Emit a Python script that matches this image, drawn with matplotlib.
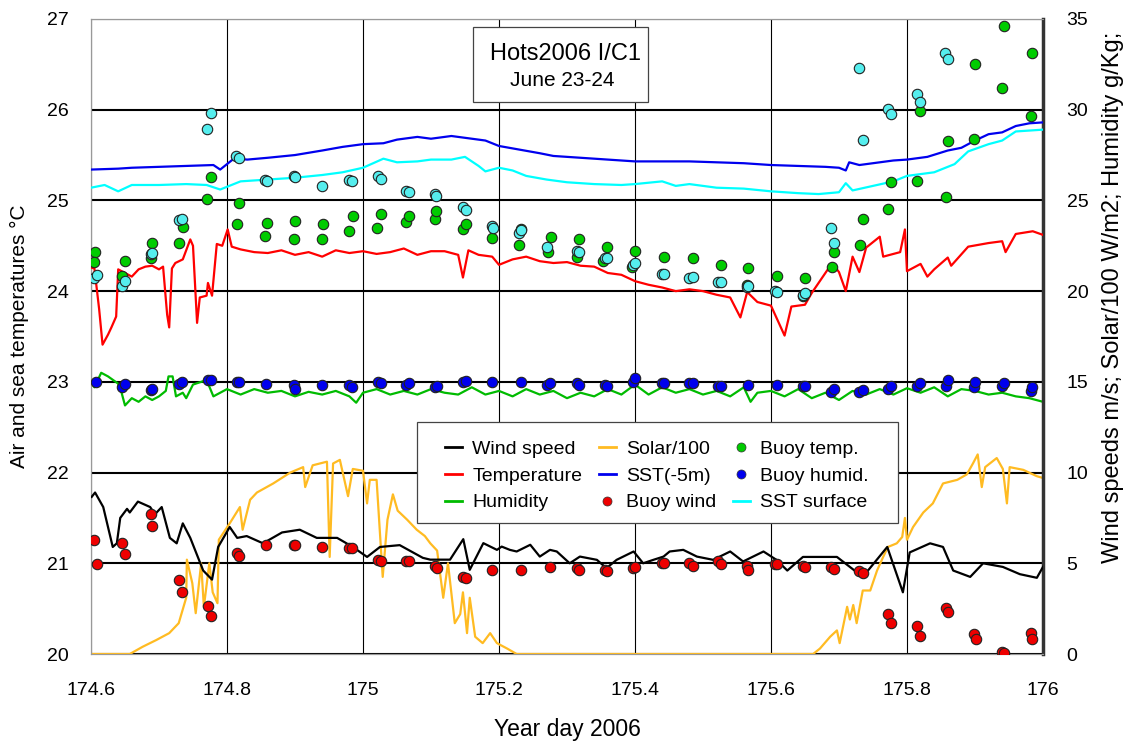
import matplotlib.pyplot as plt
from matplotlib.lines import Line2D
from matplotlib.patches import Rectangle

plt.rcParams['font.family'] = ['Liberation Sans', 'DejaVu Sans']

# ---- line data (x = year day 2006) ----
sst5_x = [174.60, 174.64, 174.66, 174.70, 174.74, 174.78, 174.79, 174.80, 174.81, 174.83, 174.86, 174.90,
          174.94, 174.97, 175.00, 175.03, 175.05, 175.08, 175.10, 175.13, 175.16, 175.18, 175.20, 175.23,
          175.26, 175.28, 175.32, 175.36, 175.40, 175.44, 175.48, 175.52, 175.56, 175.60, 175.64, 175.68,
          175.70, 175.71, 175.715, 175.73, 175.76, 175.78, 175.80, 175.83, 175.86, 175.88, 175.90, 175.92,
          175.94, 175.96, 175.98, 176.00]
sst5_y = [25.34, 25.35, 25.36, 25.37, 25.38, 25.39, 25.34, 25.40, 25.46, 25.45, 25.47, 25.50,
          25.55, 25.59, 25.62, 25.63, 25.67, 25.70, 25.68, 25.71, 25.68, 25.66, 25.60, 25.56,
          25.52, 25.49, 25.47, 25.45, 25.43, 25.43, 25.43, 25.42, 25.41, 25.39, 25.38, 25.37,
          25.36, 25.33, 25.42, 25.39, 25.42, 25.44, 25.45, 25.48, 25.55, 25.58, 25.66, 25.73,
          25.75, 25.82, 25.85, 25.86]

sst0_x = [174.60, 174.62, 174.64, 174.66, 174.70, 174.74, 174.77, 174.79, 174.80, 174.82, 174.86, 174.90,
          174.94, 174.97, 175.00, 175.03, 175.05, 175.08, 175.10, 175.13, 175.15, 175.17, 175.18, 175.20,
          175.22, 175.24, 175.27, 175.30, 175.34, 175.38, 175.40, 175.44, 175.46, 175.48, 175.52, 175.56,
          175.60, 175.64, 175.67, 175.70, 175.71, 175.72, 175.75, 175.78, 175.80, 175.84, 175.87, 175.89,
          175.92, 175.94, 175.96, 175.98, 176.00]
sst0_y = [25.14, 25.17, 25.10, 25.17, 25.17, 25.18, 25.17, 25.12, 25.15, 25.21, 25.23, 25.25,
          25.28, 25.31, 25.36, 25.46, 25.42, 25.43, 25.45, 25.45, 25.48, 25.38, 25.32, 25.36,
          25.33, 25.27, 25.23, 25.20, 25.18, 25.17, 25.18, 25.21, 25.16, 25.18, 25.14, 25.13,
          25.10, 25.08, 25.07, 25.09, 25.19, 25.11, 25.16, 25.21, 25.27, 25.31, 25.40, 25.54,
          25.62, 25.66, 25.76, 25.77, 25.78]

temp_x = [174.600, 174.605, 174.612, 174.617, 174.625, 174.630, 174.637, 174.640, 174.650, 174.660,
          174.670, 174.680, 174.690, 174.700, 174.706, 174.712, 174.715, 174.719, 174.724, 174.735,
          174.746, 174.750, 174.756, 174.760, 174.770, 174.772, 174.778, 174.785, 174.793, 174.801,
          174.807, 174.82, 174.84, 174.86, 174.88, 174.90, 174.92, 174.94, 174.96, 174.98, 175.00,
          175.02, 175.04, 175.06, 175.08, 175.10, 175.12, 175.14, 175.147, 175.155, 175.17, 175.19,
          175.20, 175.22, 175.24, 175.26, 175.28, 175.30, 175.32, 175.34, 175.36, 175.38, 175.40,
          175.42, 175.44, 175.46, 175.48, 175.50, 175.52, 175.54, 175.555, 175.565, 175.58, 175.60,
          175.62, 175.63, 175.65, 175.66, 175.67, 175.69, 175.70, 175.71, 175.72, 175.73, 175.74,
          175.76, 175.765, 175.79, 175.797, 175.80, 175.82, 175.83, 175.84, 175.86, 175.865, 175.89,
          175.92, 175.94, 175.945, 175.96, 175.985, 176.00]
temp_y = [24.26, 24.25, 23.80, 23.41, 23.52, 23.60, 23.72, 24.24, 24.20, 24.16,
          24.24, 24.27, 24.28, 24.24, 24.27, 23.74, 23.60, 24.25, 24.31, 24.35,
          24.57, 24.50, 23.65, 23.93, 23.95, 24.09, 23.95, 24.52, 24.50, 24.68,
          24.49, 24.46, 24.43, 24.42, 24.45, 24.40, 24.43, 24.38, 24.45, 24.42, 24.44,
          24.41, 24.43, 24.47, 24.40, 24.44, 24.44, 24.40, 24.15, 24.45, 24.40, 24.38,
          24.29, 24.35, 24.38, 24.33, 24.31, 24.32, 24.28, 24.27, 24.20, 24.18, 24.11,
          24.07, 24.04, 24.00, 24.02, 24.00, 23.96, 23.93, 23.71, 23.99, 23.88, 23.84,
          23.51, 23.83, 23.85, 23.98, 24.09, 24.31, 24.21, 24.00, 24.38, 24.21, 24.48,
          24.60, 24.38, 24.43, 24.68, 24.22, 24.30, 24.16, 24.24, 24.37, 24.28, 24.49,
          24.53, 24.55, 24.43, 24.63, 24.66, 24.62]

humid_x = [174.600, 174.605, 174.615, 174.625, 174.640, 174.645, 174.650, 174.660, 174.670, 174.680,
           174.690, 174.700, 174.710, 174.714, 174.720, 174.725, 174.735, 174.740, 174.750, 174.770,
           174.780, 174.80, 174.82, 174.84, 174.86, 174.88, 174.90, 174.92, 174.94, 174.96, 174.98,
           174.99, 175.00, 175.02, 175.04, 175.06, 175.08, 175.10, 175.12, 175.14, 175.16, 175.18,
           175.20, 175.22, 175.24, 175.26, 175.28, 175.30, 175.32, 175.34, 175.36, 175.38, 175.40,
           175.42, 175.44, 175.46, 175.48, 175.50, 175.52, 175.54, 175.56, 175.57, 175.58, 175.60,
           175.62, 175.64, 175.66, 175.68, 175.70, 175.72, 175.74, 175.76, 175.78, 175.80, 175.82,
           175.84, 175.86, 175.88, 175.90, 175.92, 175.94, 175.96, 175.98, 176.00]
humid_y = [15.0, 14.7, 15.5, 15.3, 14.9, 14.4, 13.7, 14.1, 13.9, 14.2,
           14.0, 14.2, 14.5, 15.3, 15.3, 14.2, 14.4, 14.1, 14.85, 15.1,
           14.2, 14.6, 14.3, 14.6, 14.4, 14.5, 14.2, 14.45, 14.3, 14.5, 14.2,
           13.85, 14.4, 14.6, 14.3, 14.5, 14.3, 14.6, 14.4, 14.3, 14.7, 14.3,
           14.5, 14.2, 14.6, 14.3, 14.5, 14.1, 14.4, 14.2, 14.6, 14.3, 14.85,
           14.3, 14.7, 14.4, 14.6, 14.3, 14.5, 14.2, 14.7, 13.9, 14.4, 14.5,
           14.2, 14.6, 14.1, 14.4, 14.0, 14.5, 14.3, 14.6, 14.3, 14.65, 14.4,
           14.7, 14.2, 14.6, 14.5, 14.3, 14.4, 14.2, 14.1, 13.9]

wind_x = [174.601, 174.606, 174.618, 174.632, 174.638, 174.643, 174.653, 174.657, 174.669, 174.687,
          174.694, 174.704, 174.716, 174.726, 174.735, 174.746, 174.765, 174.778, 174.787, 174.804,
          174.815, 174.829, 174.853, 174.881, 174.907, 174.932, 174.962, 174.985, 175.006, 175.025,
          175.054, 175.088, 175.099, 175.128, 175.1475, 175.157, 175.177, 175.197, 175.204, 175.216,
          175.226, 175.246, 175.260, 175.275, 175.285, 175.304, 175.319, 175.344, 175.358, 175.373,
          175.398, 175.412, 175.427, 175.442, 175.451, 175.471, 175.491, 175.515, 175.540, 175.559,
          175.589, 175.608, 175.624, 175.647, 175.697, 175.735, 175.771, 175.794, 175.804, 175.834,
          175.853, 175.868, 175.893, 175.912, 175.941, 175.966, 175.991, 176.000]
wind_y = [8.66, 8.9, 8.1, 5.9, 6.1, 7.5, 8.0, 7.8, 8.4, 8.1,
          7.7, 8.1, 6.4, 6.1, 7.2, 6.4, 4.6, 4.1, 5.9, 7.0,
          6.4, 6.5, 6.1, 6.7, 6.85, 6.4, 6.4, 5.9, 5.35, 5.9,
          6.0, 5.3, 5.2, 5.2, 6.33, 4.64, 6.11, 5.74, 5.92, 5.74,
          5.65, 6.02, 5.37, 5.74, 5.65, 5.0, 5.37, 5.19, 4.73, 5.19,
          5.65, 5.0, 5.19, 5.37, 5.65, 5.74, 5.37, 5.19, 5.65, 5.1,
          5.65, 5.19, 4.6, 5.35, 5.35, 4.25, 5.9, 3.4, 5.6, 6.1,
          5.9, 4.6, 4.25, 5.0, 4.8, 4.4, 4.2, 4.8]

solar_x = [174.600, 174.657, 174.676, 174.696, 174.715, 174.729, 174.740, 174.741, 174.749, 174.754,
           174.762, 174.766, 174.774, 174.779, 174.786, 174.788, 174.804, 174.814, 174.819, 174.823,
           174.834, 174.844, 174.868, 174.893, 174.912, 174.915, 174.926, 174.947, 174.951, 174.956,
           174.966, 174.978, 174.985, 175.000, 175.006, 175.010, 175.020, 175.029, 175.036, 175.044,
           175.051, 175.065, 175.079, 175.091, 175.099, 175.109, 175.118, 175.125, 175.135, 175.143,
           175.147, 175.153, 175.157, 175.165, 175.176, 175.187, 175.197, 175.212, 175.226, 175.662,
           175.672, 175.687, 175.697, 175.701, 175.712, 175.716, 175.721, 175.726, 175.735, 175.746,
           175.756, 175.765, 175.772, 175.785, 175.793, 175.797, 175.800, 175.809, 175.824, 175.838,
           175.853, 175.874, 175.888, 175.897, 175.904, 175.910, 175.915, 175.932, 175.941, 175.947,
           175.951, 175.971, 175.991, 176.000]
solar_y = [0.0, 0.0, 0.4, 0.77, 1.15, 1.7, 3.1, 5.2, 3.9, 2.25,
           5.0, 2.6, 5.0, 3.4, 2.8, 6.3, 7.2, 7.8, 8.1, 6.85,
           8.5, 8.9, 9.4, 10.0, 10.3, 9.2, 10.4, 10.6, 5.35, 10.5,
           10.7, 8.7, 10.2, 10.1, 8.3, 9.6, 9.6, 4.25, 7.4, 8.8,
           7.9, 7.4, 6.85, 6.5, 6.1, 5.7, 3.1, 5.0, 1.7, 2.2,
           3.4, 1.15, 3.1, 0.95, 0.6, 1.15, 0.6, 0.3, 0.0, 0.0,
           0.3, 0.95, 1.3, 0.6, 2.6, 1.9, 2.7, 1.7, 3.5, 3.5,
           4.6, 5.35, 5.9, 6.1, 6.45, 7.5, 6.3, 7.0, 7.8, 8.3,
           9.4, 9.6, 9.9, 10.5, 11.0, 9.2, 10.3, 10.8, 10.2, 8.3,
           10.3, 10.15, 9.8, 9.7]

# ---- buoy samples ----
btemp_x = [174.606, 174.604, 174.650, 174.646, 174.690, 174.688, 174.729, 174.735, 174.770, 174.776,
           174.815, 174.818, 174.856, 174.859, 174.899, 174.900, 174.940, 174.941, 174.980, 174.985,
           175.020, 175.027, 175.063, 175.068, 175.106, 175.108, 175.147, 175.151, 175.190, 175.232,
           175.230, 175.276, 175.272, 175.318, 175.314, 175.359, 175.353, 175.400, 175.396, 175.443,
           175.485, 175.527, 175.566, 175.565, 175.609, 175.650, 175.647, 175.690, 175.693, 175.731,
           175.735, 175.772, 175.776, 175.815, 175.819, 175.857, 175.860, 175.899, 175.900, 175.940,
           175.943, 175.982, 175.984]
btemp_y = [24.43, 24.32, 24.33, 24.17, 24.53, 24.36, 24.53, 24.71, 25.02, 25.26,
           24.74, 24.97, 24.61, 24.75, 24.58, 24.77, 24.58, 24.74, 24.66, 24.83,
           24.70, 24.85, 24.76, 24.83, 24.80, 24.88, 24.68, 24.74, 24.59, 24.68,
           24.51, 24.60, 24.43, 24.58, 24.38, 24.49, 24.33, 24.44, 24.27, 24.38,
           24.36, 24.29, 24.25, 24.07, 24.17, 24.14, 23.95, 24.27, 24.43, 24.51,
           24.80, 24.91, 25.20, 25.21, 25.99, 25.04, 25.66, 25.68, 26.50, 26.24,
           26.92, 25.93, 26.63]

bsst_x = [174.604, 174.609, 174.646, 174.650, 174.688, 174.690, 174.729, 174.734, 174.771, 174.776,
          174.813, 174.818, 174.856, 174.859, 174.899, 174.900, 174.940, 174.980, 174.984, 175.022,
          175.027, 175.063, 175.068, 175.106, 175.108, 175.147, 175.151, 175.190, 175.191, 175.230,
          175.232, 175.270, 175.315, 175.318, 175.356, 175.359, 175.397, 175.400, 175.440, 175.443,
          175.480, 175.485, 175.522, 175.527, 175.565, 175.566, 175.606, 175.609, 175.647, 175.650,
          175.688, 175.693, 175.730, 175.735, 175.772, 175.776, 175.815, 175.819, 175.856, 175.860]
bsst_y = [24.14, 24.18, 24.06, 24.11, 24.41, 24.42, 24.78, 24.80, 25.79, 25.96,
          25.49, 25.47, 25.23, 25.21, 25.27, 25.26, 25.16, 25.22, 25.21, 25.27,
          25.24, 25.10, 25.09, 25.07, 25.05, 24.93, 24.89, 24.72, 24.70, 24.64,
          24.67, 24.49, 24.44, 24.43, 24.37, 24.36, 24.29, 24.31, 24.19, 24.19,
          24.15, 24.16, 24.10, 24.10, 24.05, 24.06, 24.00, 23.99, 23.96, 23.98,
          24.70, 24.53, 26.46, 25.67, 26.01, 25.95, 26.17, 26.08, 26.63, 26.56]

bhum_x = [174.607, 174.646, 174.650, 174.688, 174.690, 174.729, 174.734, 174.772, 174.776, 174.815,
          174.818, 174.857, 174.899, 174.900, 174.940, 174.980, 174.984, 175.022, 175.027, 175.063,
          175.068, 175.106, 175.109, 175.147, 175.151, 175.190, 175.232, 175.270, 175.275, 175.315,
          175.318, 175.356, 175.359, 175.397, 175.400, 175.440, 175.443, 175.480, 175.485, 175.522,
          175.527, 175.566, 175.609, 175.647, 175.650, 175.688, 175.693, 175.730, 175.735, 175.772,
          175.776, 175.815, 175.819, 175.857, 175.860, 175.899, 175.900, 175.940, 175.943, 175.982,
          175.984]
bhum_y = [15.0, 14.7, 14.9, 14.55, 14.6, 14.9, 15.0, 15.1, 15.1, 15.0,
          15.0, 14.9, 14.85, 14.6, 14.85, 14.8, 14.7, 15.0, 14.95, 14.85,
          14.95, 14.7, 14.75, 15.0, 15.05, 15.0, 15.0, 14.8, 14.95, 14.95,
          14.85, 14.85, 14.75, 15.0, 15.2, 14.95, 14.95, 14.95, 14.95, 14.75,
          14.75, 14.85, 14.8, 14.75, 14.75, 14.45, 14.6, 14.45, 14.55, 14.6,
          14.75, 14.75, 14.95, 14.75, 15.1, 14.7, 15.0, 14.75, 14.95, 14.5,
          14.7]

bwind_x = [174.604, 174.609, 174.646, 174.650, 174.688, 174.690, 174.729, 174.734, 174.772, 174.776,
           174.815, 174.818, 174.857, 174.899, 174.900, 174.940, 174.980, 174.984, 175.022, 175.027,
           175.063, 175.068, 175.106, 175.109, 175.147, 175.151, 175.190, 175.232, 175.275, 175.315,
           175.318, 175.356, 175.359, 175.397, 175.400, 175.440, 175.443, 175.480, 175.485, 175.522,
           175.527, 175.565, 175.566, 175.606, 175.609, 175.647, 175.650, 175.688, 175.693, 175.730,
           175.735, 175.772, 175.776, 175.815, 175.819, 175.857, 175.860, 175.899, 175.902, 175.940,
           175.943, 175.982, 175.984]
bwind_y = [6.3, 4.95, 6.1, 5.5, 7.7, 7.05, 4.1, 3.4, 2.65, 2.1,
           5.55, 5.4, 6.0, 6.0, 6.0, 5.9, 5.85, 5.85, 5.2, 5.15,
           5.1, 5.1, 4.85, 4.75, 4.25, 4.2, 4.65, 4.65, 4.8, 4.75,
           4.65, 4.65, 4.55, 4.75, 4.8, 5.0, 5.0, 5.0, 4.85, 5.1,
           4.95, 4.85, 4.65, 4.95, 4.95, 4.85, 4.8, 4.8, 4.7, 4.6,
           4.45, 2.2, 1.7, 1.55, 1.0, 2.55, 2.3, 1.1, 0.8, 0.1,
           0.05, 1.15, 0.85]

fig = plt.figure(figsize=(11.29, 7.41), dpi=100)
ax = fig.add_axes([0.0806, 0.1174, 0.8432, 0.857])
ax2 = ax.twinx()

ax.set_xlim(174.6, 176)
ax.set_ylim(20, 27)
ax2.set_ylim(0, 35)
ax.set_xticks([174.6, 174.8, 175.0, 175.2, 175.4, 175.6, 175.8, 176.0])
ax.set_xticklabels(['174.6', '174.8', '175', '175.2', '175.4', '175.6', '175.8', '176'])
ax.set_yticks(range(20, 28))
ax2.set_yticks(range(0, 36, 5))
ax.grid(True, axis='x', color='black', linewidth=0.8)
ax.grid(True, axis='y', color='black', linewidth=1.5)
ax.set_axisbelow(True)
ax.tick_params(axis='x', labelsize=14, length=0, pad=20)
ax.tick_params(axis='y', labelsize=14, length=0, pad=16)
ax2.tick_params(labelsize=14, length=0, pad=17)
for sp in ['left', 'bottom', 'top']:
    ax.spines[sp].set_color('#999999')
    ax2.spines[sp].set_color('#999999')
ax2.spines['right'].set_linewidth(2.5)
ax2.spines['right'].set_color('#333333')

ax.set_xlabel('Year day 2006', fontsize=16.5, labelpad=14)
ax.set_ylabel('Air and sea temperatures °C', fontsize=15, labelpad=13)
ax2.set_ylabel('Wind speeds m/s; Solar/100 W/m2; Humidity g/Kg;', fontsize=17, labelpad=14)
ax2.yaxis.set_label_coords(1.062, 0.562)

to_r = lambda v: [(t - 20) * 5 for t in v]

# lines
ax2.plot(solar_x, solar_y, color='#ffbb22', lw=1.6, zorder=2)
ax2.plot(humid_x, humid_y, color='#00bb00', lw=1.6, zorder=2)
ax2.plot(wind_x, wind_y, color='black', lw=1.6, zorder=3)
ax2.plot(temp_x, to_r(temp_y), color='#ff0000', lw=1.6, zorder=3)
ax2.plot(sst5_x, to_r(sst5_y), color='#0000ee', lw=1.6, zorder=3)
ax2.plot(sst0_x, to_r(sst0_y), color='#00ffff', lw=1.6, zorder=3)

# buoy markers
mk = dict(linestyle='none', marker='o', markersize=7.5, markeredgecolor='#222222', markeredgewidth=0.8, zorder=4)
ax2.plot(btemp_x, to_r(btemp_y), markerfacecolor='#00cc00', **mk)
ax2.plot(bsst_x, to_r(bsst_y), markerfacecolor='#55eeee', **mk)
ax2.plot(bhum_x, bhum_y, markerfacecolor='#0000ee', **mk)
ax2.plot(bwind_x, bwind_y, markerfacecolor='#ee0000', **mk)

lm = dict(color='none', marker='o', markeredgecolor='#333333', markeredgewidth=0.5, markersize=6.5)
handles = [
    Line2D([], [], color='black', lw=2),
    Line2D([], [], color='#ff0000', lw=2),
    Line2D([], [], color='#00bb00', lw=2),
    Line2D([], [], color='#ffbb22', lw=2),
    Line2D([], [], color='#0000ee', lw=2),
    Line2D([], [], markerfacecolor='#ee0000', **lm),
    Line2D([], [], markerfacecolor='#00cc00', **lm),
    Line2D([], [], markerfacecolor='#0000ee', **lm),
    Line2D([], [], color='#00ffff', lw=2),
]
labels = ['Wind speed', 'Temperature', 'Humidity', 'Solar/100', 'SST(-5m)', 'Buoy wind',
          'Buoy temp.', 'Buoy humid.', 'SST surface']

# legend frame drawn separately, legend itself without frame
ax2.add_patch(Rectangle((0.3424, 0.206), 0.5053, 0.159, transform=ax2.transAxes, facecolor='white',
                        edgecolor='#444444', lw=0.9, zorder=9))
leg = ax2.legend(handles, labels, ncol=3, loc='upper left', bbox_to_anchor=(0.3718, 0.337),
                 fontsize=14, frameon=False, handlelength=0.9, columnspacing=0.85,
                 handletextpad=0.5, labelspacing=0.48, borderpad=0, borderaxespad=0)
leg.set_zorder(10)

# title box
ax2.add_patch(Rectangle((0.4013, 0.8693), 0.1838, 0.1181, transform=ax2.transAxes, facecolor='white',
                        edgecolor='#444444', lw=0.9, zorder=9))
ax2.text(0.498, 0.9354, 'Hots2006 I/C1', transform=ax2.transAxes, ha='center', va='baseline',
         fontsize=17, zorder=10)
ax2.text(0.495, 0.8945, 'June 23-24', transform=ax2.transAxes, ha='center', va='baseline',
         fontsize=15, zorder=10)

fig.savefig('out.png', dpi=100)
